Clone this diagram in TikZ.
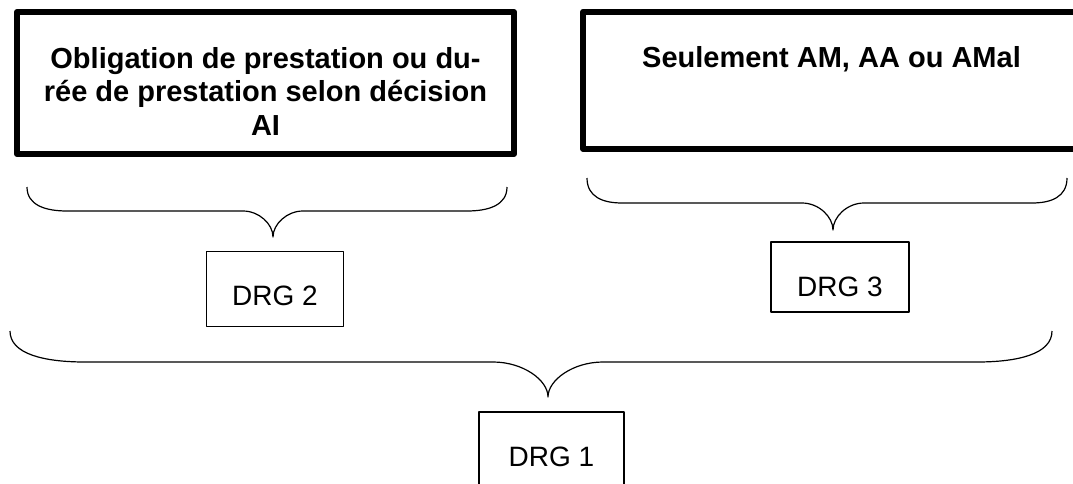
\documentclass[tikz,border=0pt]{standalone}
\usepackage{fontspec}
\setmainfont{Liberation Sans}
\begin{document}
\begin{tikzpicture}[x=1pt, y=-1pt, line join=round,
    title box/.style={draw, rectangle, line width=6pt, inner sep=0pt},
    title text/.style={align=center, inner sep=0pt, font=\fontsize{29}{33.3}\selectfont\bfseries},
    drg node/.style={draw, rectangle, line width=1.2pt, inner sep=0pt, text height=54pt, font=\fontsize{28}{32}\selectfont},
    brace line/.style={line width=1.2pt}]

    \useasboundingbox (0,0) rectangle (1073,484);

    % les deux cadres du haut
    \node[title box, minimum width=497pt, minimum height=142pt] at (265.5, 83) (prest) {};
    \node[title box, minimum width=498pt, minimum height=137pt] at (832, 80.3) (seul) {};

    \node[title text, anchor=north] at (265.5, 47.4) (prest text) {Obligation de prestation ou du-\\rée de prestation selon décision\\AI};
    \node[title text, anchor=base] at (831.5, 68) (seul text) {Seulement AM, AA ou AMal};

    % les accolades
    \draw[brace line] (27,187) .. controls (27,205) and (45,211) .. (67,211) -- (243,211)
        .. controls (259,211) and (273,224) .. (273,237)
        .. controls (273,224) and (287,211) .. (303,211) -- (467,211)
        .. controls (489,211) and (507,205) .. (507,187);
    \draw[brace line] (587,178) .. controls (587,197) and (603,203) .. (622,203) -- (802,203)
        .. controls (819,203) and (833,217) .. (833,230)
        .. controls (833,217) and (847,203) .. (864,203) -- (1032,203)
        .. controls (1051,203) and (1067,197) .. (1067,178);
    \draw[brace line] (10,331) .. controls (10,354) and (44,362) .. (85,362) -- (493,362)
        .. controls (523,362) and (548,380) .. (548,397)
        .. controls (548,380) and (573,362) .. (603,362) -- (977,362)
        .. controls (1018,362) and (1052,354) .. (1052,331);

    % les DRG
    \node[drg node, minimum width=137pt, text depth=21pt] at (275, 289.2) (drg2) {DRG 2};
    \node[drg node, minimum width=138pt, text depth=16pt] at (840, 277) (drg3) {DRG 3};
    \node[drg node, minimum width=145pt, text depth=21pt] at (551.5, 449.5) (drg1) {DRG 1};

\end{tikzpicture}
\end{document}
